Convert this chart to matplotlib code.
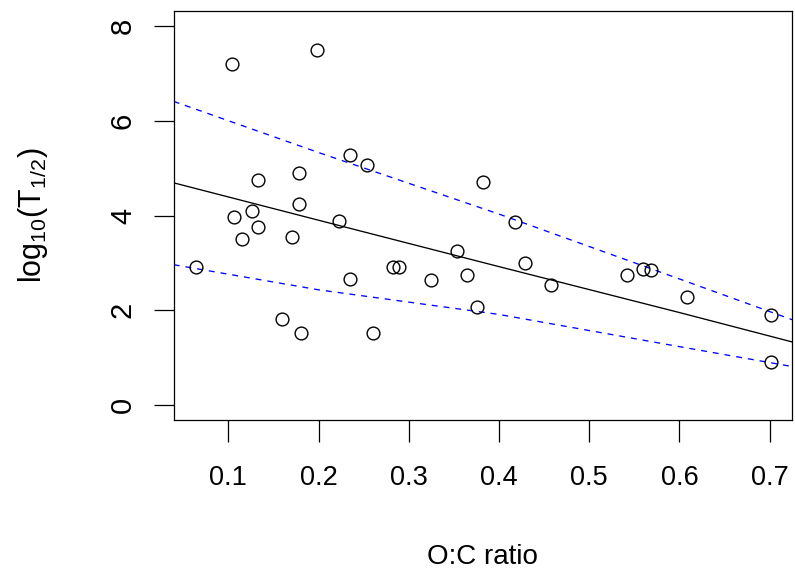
import matplotlib
matplotlib.use("Agg")
import matplotlib.pyplot as plt

# Observations (O:C ratio vs log10 half-life)
oc_ratio = [0.1043, 0.198, 0.2348, 0.2533, 0.1332, 0.1779,
            0.178, 0.1065, 0.1265, 0.1332, 0.1154, 0.1709, 0.2223, 0.0641,
            0.2352, 0.2822, 0.2896, 0.3243, 0.1598, 0.1802, 0.26,
            0.3819, 0.4177, 0.3531, 0.4288, 0.3642, 0.4576, 0.3753,
            0.5416, 0.5593, 0.5685, 0.6084, 0.7016, 0.7016]
log_t_half = [7.21, 7.49, 5.27, 5.06, 4.76, 4.89,
              4.25, 3.96, 4.09, 3.75, 3.50, 3.54, 3.89, 2.91,
              2.66, 2.91, 2.91, 2.63, 1.82, 1.52, 1.52,
              4.71, 3.87, 3.25, 2.99, 2.75, 2.53, 2.07,
              2.74, 2.87, 2.84, 2.28, 1.90, 0.90]

# Fitted line and interval bands
line_x = [0.0394, 0.2, 0.4, 0.6, 0.7248]
fit_y = [4.69, 3.90, 2.92, 1.95, 1.33]
upper_y = [6.41, 5.33, 4.03, 2.66, 1.80]
lower_y = [2.96, 2.43, 1.91, 1.23, 0.81]

x_ticks = [0.1, 0.2, 0.3, 0.4, 0.5, 0.6, 0.7]
x_tick_labels = ["0.1", "0.2", "0.3", "0.4", "0.5", "0.6", "0.7"]
y_ticks = [0, 2, 4, 6, 8]
y_tick_labels = ["0", "2", "4", "6", "8"]

plt.rcParams['font.family'] = ['Liberation Sans', 'DejaVu Sans']
plt.rcParams['mathtext.fontset'] = 'custom'
plt.rcParams['mathtext.rm'] = 'Liberation Sans'
plt.rcParams['mathtext.it'] = 'Liberation Sans'

fig = plt.figure(figsize=(7.95, 5.78), dpi=100)
ax = fig.add_axes([173.7 / 795, 1 - 420 / 578, (792 - 173.7) / 795, (420 - 11) / 578])

ax.plot(line_x, fit_y, color='black', lw=0.95)
ax.plot(line_x, upper_y, color='#0000FF', lw=0.95, dashes=(4.5, 4.5))
ax.plot(line_x, lower_y, color='#0000FF', lw=0.95, dashes=(4.5, 4.5))
ax.plot(oc_ratio, log_t_half, linestyle='none', marker='o', markersize=9.2,
        markerfacecolor='none', markeredgecolor='black', markeredgewidth=1.0)

ax.set_xlim(0.0394, 0.7248)
ax.set_ylim(-0.32, 8.32)

ax.set_xticks(x_ticks)
ax.set_xticklabels(x_tick_labels)
ax.set_yticks(y_ticks)
ax.set_yticklabels(y_tick_labels, rotation=90, va='center')

ax.tick_params(axis='x', length=15.5, width=0.9, pad=17, labelsize=19.5)
ax.tick_params(axis='y', length=14.5, width=0.9, pad=12, labelsize=21)
for s in ax.spines.values():
    s.set_linewidth(0.9)

ax.set_xlabel("O:C ratio", fontsize=20, va='center')
ax.xaxis.set_label_coords(0.5, -0.335)
ax.set_ylabel(r"$\mathregular{log_{10}(T_{1/2})}$", fontsize=22, va='center')
ax.yaxis.set_label_coords(-0.2276, 0.5)

fig.savefig("out.png", dpi=100)
